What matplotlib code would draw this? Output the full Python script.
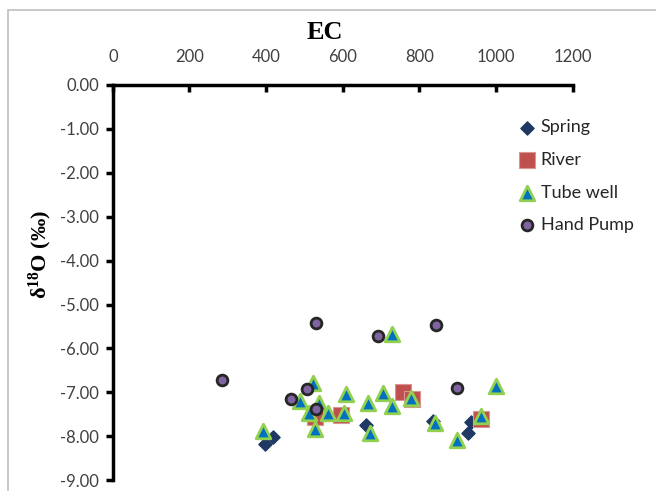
import matplotlib
matplotlib.use('Agg')
import matplotlib.pyplot as plt
from matplotlib.patches import Rectangle

# EC vs d18O values
spring_ec = [397, 417, 660, 835, 928, 935]
spring_d18o = [-8.18, -8.02, -7.75, -7.65, -7.92, -7.68]

river_ec = [527, 595, 757, 780, 962]
river_d18o = [-7.56, -7.52, -7.00, -7.15, -7.61]

tube_ec = [391, 488, 512, 522, 527, 537, 561, 603, 608, 665, 670, 704, 728, 729, 777, 840, 897, 960, 999]
tube_d18o = [-7.88, -7.20, -7.47, -6.79, -7.84, -7.24, -7.47, -7.47, -7.04, -7.24, -7.93, -7.02, -7.31, -5.67,
             -7.13, -7.70, -8.09, -7.54, -6.86]

pump_ec = [284, 464, 506, 530, 530, 691, 843, 897]
pump_d18o = [-6.72, -7.15, -6.92, -5.42, -7.38, -5.72, -5.47, -6.90]

x_ticks = [0, 200, 400, 600, 800, 1000, 1200]
y_ticks = [0, -1, -2, -3, -4, -5, -6, -7, -8, -9]

plt.rcParams['font.family'] = ['Lato', 'DejaVu Sans']
plt.rcParams['mathtext.fontset'] = 'custom'
plt.rcParams['mathtext.rm'] = 'Liberation Serif:bold'
plt.rcParams['mathtext.bf'] = 'Liberation Serif:bold'
plt.rcParams['mathtext.it'] = 'Liberation Serif:bold:italic'

fig = plt.figure(figsize=(6.56, 4.91), dpi=100)
ax = fig.add_axes([0.172, 0.022, 0.701, 0.805])

# light grey chart-area border
fig.patches.append(Rectangle((0.012, -0.02), 1.2, 1.0, transform=fig.transFigure,
                             fill=False, edgecolor='#bfbfbf', lw=1.2))

ax.scatter(spring_ec, spring_d18o, marker='D', s=45, color='#1f3864', label='Spring', zorder=3)
ax.scatter(river_ec, river_d18o, marker='s', s=125, color='#c0504d', edgecolors='#d99694', lw=0.8,
           label='River', zorder=3)
ax.scatter(tube_ec, tube_d18o, marker='^', s=110, color='#0070c0', edgecolors='#92d050', lw=2,
           label='Tube well', zorder=4)
ax.scatter(pump_ec, pump_d18o, marker='o', s=60, color='#8064a2', edgecolors='#262626', lw=2,
           label='Hand Pump', zorder=5)

ax.set_xlim(0, 1200)
ax.set_ylim(-9, 0)
ax.set_xticks(x_ticks)
ax.set_yticks(y_ticks)
ax.set_yticklabels(['%.2f' % v for v in y_ticks])

ax.xaxis.tick_top()
ax.xaxis.set_label_position('top')
ax.spines['right'].set_visible(False)
ax.spines['bottom'].set_visible(False)
ax.spines['left'].set_linewidth(2.5)
ax.spines['top'].set_linewidth(2.5)
ax.tick_params(axis='x', direction='in', length=5, width=2.5, labelsize=12, colors='black',
               labelcolor='#404040', pad=14)
ax.tick_params(axis='y', direction='out', length=5, width=2.5, labelsize=12, colors='black',
               labelcolor='#404040', pad=5)

ax.set_xlabel('EC', family='Liberation Serif', fontweight='bold', fontsize=19)
ax.xaxis.set_label_coords(0.46, 1.115)
ax.set_ylabel('δ$^{18}$O (‰)', family='Liberation Serif', fontweight='bold', fontsize=16)
ax.yaxis.set_label_coords(-0.128, 0.572)

ax.legend(loc='upper left', bbox_to_anchor=(0.765, 0.79), bbox_transform=fig.transFigure,
          frameon=False, fontsize=13, labelspacing=0.92, handletextpad=0.25, handlelength=1.0,
          labelcolor='#262626')

fig.savefig('out.png', dpi=100)
